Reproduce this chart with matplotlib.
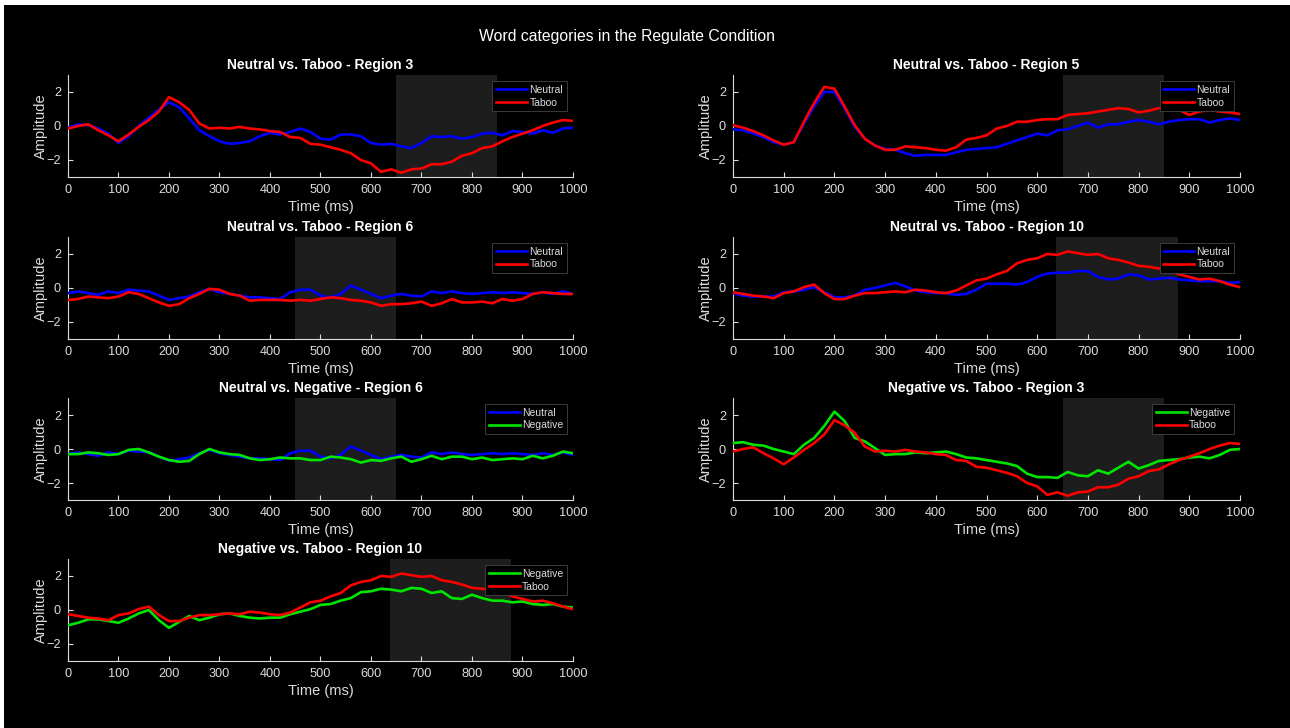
import numpy as np
import matplotlib
matplotlib.use("Agg")
import matplotlib.pyplot as plt
from matplotlib.patches import Rectangle

plt.rcParams['font.family'] = ['Liberation Sans', 'DejaVu Sans']

# ---------------- data ----------------
time_ms = np.arange(0, 1001, 20)

neutral_r3 = [-0.1, 0.1, 0.05, -0.15, -0.45, -1.0, -0.6, 0.0, 0.5, 0.95,
              1.4, 1.1, 0.45, -0.25, -0.6, -0.9, -1.05, -1.0, -0.9, -0.6,
              -0.4, -0.5, -0.35, -0.15, -0.35, -0.75, -0.8, -0.5, -0.5, -0.6,
              -1.0, -1.1, -1.05, -1.2, -1.3, -1.0, -0.6, -0.65, -0.6, -0.75,
              -0.65, -0.45, -0.4, -0.55, -0.3, -0.35, -0.45, -0.25, -0.4, -0.15,
              -0.1]
taboo_r3 = [-0.15, 0.0, 0.1, -0.25, -0.55, -0.9, -0.5, -0.05, 0.35, 0.85,
            1.7, 1.4, 0.95, 0.15, -0.15, -0.1, -0.15, -0.05, -0.15, -0.2,
            -0.3, -0.35, -0.65, -0.7, -1.05, -1.1, -1.25, -1.4, -1.6, -2.0,
            -2.2, -2.7, -2.55, -2.75, -2.55, -2.5, -2.25, -2.25, -2.1, -1.75,
            -1.6, -1.3, -1.2, -0.9, -0.65, -0.45, -0.25, 0.0, 0.2, 0.35,
            0.3]
neutral_r5 = [-0.2, -0.25, -0.45, -0.65, -0.95, -1.1, -0.95, 0.15, 1.15, 2.0,
              2.0, 1.05, -0.05, -0.75, -1.15, -1.35, -1.4, -1.6, -1.75, -1.7,
              -1.7, -1.7, -1.55, -1.4, -1.35, -1.3, -1.25, -1.05, -0.85, -0.65,
              -0.45, -0.55, -0.25, -0.2, 0.0, 0.2, -0.1, 0.1, 0.1, 0.25,
              0.35, 0.25, 0.1, 0.25, 0.35, 0.4, 0.4, 0.2, 0.35, 0.45,
              0.35]
taboo_r5 = [0.05, -0.1, -0.3, -0.55, -0.85, -1.1, -0.95, 0.25, 1.35, 2.3,
            2.2, 1.15, 0.05, -0.75, -1.15, -1.4, -1.4, -1.2, -1.25, -1.3,
            -1.4, -1.45, -1.25, -0.8, -0.7, -0.55, -0.15, 0.0, 0.25, 0.25,
            0.35, 0.4, 0.4, 0.65, 0.7, 0.75, 0.85, 0.95, 1.05, 1.0,
            0.8, 0.9, 1.05, 1.15, 0.95, 0.65, 0.85, 0.95, 0.85, 0.8,
            0.7]
neutral_r6 = [-0.3, -0.2, -0.3, -0.4, -0.2, -0.3, -0.1, -0.15, -0.2, -0.45,
              -0.7, -0.6, -0.5, -0.25, -0.05, -0.25, -0.35, -0.45, -0.55, -0.55,
              -0.6, -0.65, -0.25, -0.1, -0.1, -0.45, -0.55, -0.35, 0.15, -0.1,
              -0.35, -0.6, -0.45, -0.35, -0.45, -0.5, -0.2, -0.3, -0.2, -0.3,
              -0.35, -0.3, -0.25, -0.3, -0.25, -0.3, -0.35, -0.25, -0.35, -0.2,
              -0.35]
taboo_r6 = [-0.7, -0.65, -0.5, -0.55, -0.6, -0.5, -0.25, -0.35, -0.6, -0.85,
            -1.05, -0.95, -0.6, -0.35, -0.05, -0.1, -0.35, -0.45, -0.75, -0.7,
            -0.7, -0.7, -0.75, -0.7, -0.75, -0.65, -0.55, -0.6, -0.7, -0.75,
            -0.85, -1.05, -0.95, -0.95, -0.9, -0.8, -1.05, -0.9, -0.65, -0.85,
            -0.85, -0.8, -0.9, -0.65, -0.75, -0.65, -0.35, -0.25, -0.3, -0.35,
            -0.35]
neutral_r10 = [-0.3, -0.45, -0.5, -0.5, -0.5, -0.25, -0.2, -0.1, 0.05, -0.25,
               -0.55, -0.55, -0.45, -0.1, 0.0, 0.15, 0.3, 0.1, -0.15, -0.25,
               -0.3, -0.3, -0.4, -0.35, -0.1, 0.25, 0.25, 0.25, 0.2, 0.35,
               0.65, 0.85, 0.9, 0.9, 1.0, 1.0, 0.65, 0.5, 0.55, 0.8,
               0.75, 0.5, 0.55, 0.6, 0.5, 0.45, 0.4, 0.4, 0.4, 0.3,
               0.35]
taboo_r10 = [-0.25, -0.35, -0.45, -0.5, -0.6, -0.3, -0.2, 0.05, 0.2, -0.3,
             -0.65, -0.65, -0.45, -0.3, -0.3, -0.25, -0.2, -0.25, -0.1, -0.15,
             -0.25, -0.3, -0.15, 0.15, 0.45, 0.55, 0.8, 1.0, 1.45, 1.65,
             1.75, 2.0, 1.95, 2.15, 2.05, 1.95, 2.0, 1.75, 1.65, 1.5,
             1.3, 1.25, 1.15, 1.05, 0.8, 0.65, 0.5, 0.55, 0.4, 0.2,
             0.05]
negative_r6 = [-0.3, -0.3, -0.2, -0.25, -0.35, -0.3, -0.05, 0.0, -0.2, -0.45,
               -0.65, -0.75, -0.7, -0.3, 0.0, -0.2, -0.3, -0.35, -0.55, -0.65,
               -0.6, -0.5, -0.55, -0.55, -0.65, -0.65, -0.45, -0.5, -0.6, -0.8,
               -0.65, -0.7, -0.55, -0.45, -0.75, -0.6, -0.4, -0.6, -0.45, -0.45,
               -0.6, -0.5, -0.65, -0.6, -0.55, -0.6, -0.4, -0.55, -0.4, -0.15,
               -0.25]
negative_r3 = [0.35, 0.4, 0.25, 0.2, 0.0, -0.15, -0.3, 0.25, 0.65, 1.35,
               2.2, 1.65, 0.65, 0.45, 0.05, -0.35, -0.3, -0.3, -0.2, -0.25,
               -0.2, -0.15, -0.3, -0.5, -0.55, -0.65, -0.75, -0.85, -1.0, -1.45,
               -1.65, -1.65, -1.7, -1.35, -1.55, -1.6, -1.25, -1.45, -1.1, -0.75,
               -1.15, -0.95, -0.7, -0.65, -0.6, -0.5, -0.45, -0.55, -0.35, -0.05,
               0.0]
negative_r10 = [-0.9, -0.75, -0.55, -0.55, -0.65, -0.75, -0.5, -0.2, 0.0, -0.6,
                -1.05, -0.7, -0.35, -0.6, -0.45, -0.25, -0.2, -0.35, -0.45, -0.5,
                -0.45, -0.45, -0.25, -0.1, 0.05, 0.3, 0.35, 0.55, 0.7, 1.05,
                1.1, 1.25, 1.2, 1.1, 1.3, 1.25, 1.0, 1.1, 0.7, 0.65,
                0.9, 0.7, 0.55, 0.55, 0.45, 0.5, 0.35, 0.3, 0.35, 0.2,
                0.15]

titles = ["Neutral vs. Taboo - Region 3", "Neutral vs. Taboo - Region 5",
          "Neutral vs. Taboo - Region 6", "Neutral vs. Taboo - Region 10",
          "Neutral vs. Negative - Region 6", "Negative vs. Taboo - Region 3",
          "Negative vs. Taboo - Region 10"]
series_pairs = [
    (("Neutral", neutral_r3), ("Taboo", taboo_r3)),
    (("Neutral", neutral_r5), ("Taboo", taboo_r5)),
    (("Neutral", neutral_r6), ("Taboo", taboo_r6)),
    (("Neutral", neutral_r10), ("Taboo", taboo_r10)),
    (("Neutral", neutral_r6), ("Negative", negative_r6)),
    (("Negative", negative_r3), ("Taboo", taboo_r3)),
    (("Negative", negative_r10), ("Taboo", taboo_r10)),
]
windows = [(650, 850), (650, 850), (450, 650), (637, 878),
           (450, 650), (650, 850), (637, 878)]
xticks = list(range(0, 1001, 100))
yticks = [-2, 0, 2]
suptitle = "Word categories in the Regulate Condition"

colors = {"Neutral": "#0000ff", "Taboo": "#ff0000", "Negative": "#00e600"}

# ---------------- layout ----------------
W, H = 1290, 728
fig = plt.figure(figsize=(W / 100, H / 100), dpi=100, facecolor="white")
fig.patches.append(Rectangle((4 / W, -0.01), 1.0, 1.01 - 5 / H,
                             transform=fig.transFigure, facecolor="black",
                             edgecolor="none", zorder=-10))

col_x = [68, 733]
col_w = [505, 507]
row_top = [75, 237, 398, 559]
ax_h = 102
positions = [(0, 0), (1, 0), (0, 1), (1, 1), (0, 2), (1, 2), (0, 3)]

fg = "#dcdcdc"
for i, (c, r) in enumerate(positions):
    left = col_x[c] / W
    bottom = 1 - (row_top[r] + ax_h) / H
    ax = fig.add_axes([left, bottom, col_w[c] / W, ax_h / H])
    ax.set_facecolor("black")
    a, b = windows[i]
    ax.axvspan(a, b, color="#1d1d1d", zorder=0, lw=0)
    for name, vals in series_pairs[i]:
        ax.plot(time_ms, vals, color=colors[name], lw=1.9, label=name, zorder=3,
                solid_joinstyle="round")
    ax.set_xlim(0, 1000)
    ax.set_ylim(-3, 3)
    ax.set_xticks(xticks)
    ax.set_yticks(yticks)
    for s in ["top", "right"]:
        ax.spines[s].set_visible(False)
    for s in ["left", "bottom"]:
        ax.spines[s].set_color(fg)
        ax.spines[s].set_linewidth(0.8)
    ax.tick_params(direction="in", length=3.5, width=0.8, colors=fg,
                   labelsize=9.2, pad=5)
    ax.set_xlabel("Time (ms)", color=fg, fontsize=10.5, labelpad=3)
    ax.set_ylabel("Amplitude", color=fg, fontsize=10.5, labelpad=-1)
    ax.set_title(titles[i], color="white", fontsize=10, fontweight="bold", pad=4)
    leg = ax.legend(loc="upper right", fontsize=7.5, frameon=True,
                    fancybox=False, facecolor="black", edgecolor="#444444",
                    framealpha=1, handlelength=3.0, handletextpad=0.2,
                    borderpad=0.35, labelspacing=0.25, borderaxespad=0.6)
    leg.get_frame().set_linewidth(0.6)
    for t in leg.get_texts():
        t.set_color(fg)

fig.text(627 / W, 1 - 36 / H, suptitle, color="white", fontsize=11.3,
         ha="center", va="center")

fig.savefig("out.png", dpi=100, facecolor=fig.get_facecolor())
